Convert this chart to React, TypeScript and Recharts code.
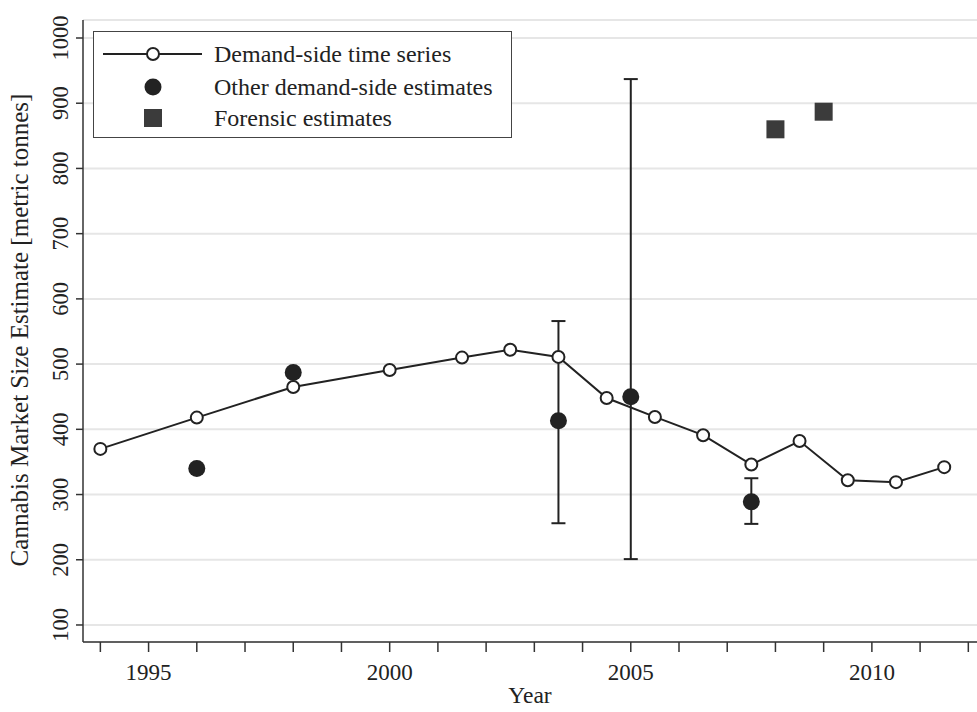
import React from "react";
import {
  ScatterChart,
  Scatter,
  XAxis,
  YAxis,
  CartesianGrid,
  ErrorBar,
  Legend,
} from "recharts";

const INK = "#222222";
const GRID = "#e6e6e6";
const SQUARE = "#3b3b3b";
const FONT = "'Liberation Serif', 'Times New Roman', serif";

// demand-side time series
const seriesYears = [1994, 1996, 1998, 2000, 2001.5, 2002.5, 2003.5, 2004.5, 2005.5, 2006.5, 2007.5, 2008.5, 2009.5, 2010.5, 2011.5];
const seriesValues = [370, 418, 465, 491, 510, 522, 511, 448, 419, 391, 346, 382, 322, 319, 342];

// other demand-side estimates, with ranges where given
const otherYears = [1996, 1998, 2003.5, 2005, 2007.5];
const otherValues = [340, 487, 413, 450, 289];
const otherLow: (number | null)[] = [null, null, 256, 201, 255];
const otherHigh: (number | null)[] = [null, null, 566, 937, 325];

// forensic estimates
const forensicYears = [2008, 2009];
const forensicValues = [860, 887];

const yearTicks = [1994, 1995, 1996, 1997, 1998, 1999, 2000, 2001, 2002, 2003, 2004, 2005, 2006, 2007, 2008, 2009, 2010, 2011, 2012];
const valueTicks = [100, 200, 300, 400, 500, 600, 700, 800, 900, 1000];

const seriesData = seriesYears.map((x, i) => ({ x, y: seriesValues[i] }));
const otherData = otherYears.map((x, i) => ({ x, y: otherValues[i] }));
const rangeData = otherYears
  .map((x, i) => ({ x, y: otherValues[i], lo: otherLow[i], hi: otherHigh[i] }))
  .filter((d) => d.lo != null && d.hi != null)
  .map((d) => ({ x: d.x, y: d.y, err: [d.y - (d.lo as number), (d.hi as number) - d.y] }));
const forensicData = forensicYears.map((x, i) => ({ x, y: forensicValues[i] }));

const OpenDot = (p: any) => (
  <circle cx={p.cx} cy={p.cy} r={6} fill="#fff" stroke={INK} strokeWidth={2} />
);
const FilledDot = (p: any) => <circle cx={p.cx} cy={p.cy} r={8.5} fill={INK} />;
const Square = (p: any) => (
  <rect x={p.cx - 9} y={p.cy - 9} width={18} height={18} fill={SQUARE} />
);
const NoDot = () => <g />;

const XTick = (p: any) => {
  const v = p.payload.value;
  if (v % 5 !== 0) return <g />;
  return (
    <text x={p.x} y={p.y + 26} textAnchor="middle" fontSize={23} fontFamily={FONT} fill={INK}>
      {v}
    </text>
  );
};

const YTick = (p: any) => {
  const bx = p.x - 6;
  return (
    <text
      x={bx}
      y={p.y}
      transform={`rotate(-90 ${bx} ${p.y})`}
      textAnchor="middle"
      fontSize={22.5}
      fontFamily={FONT}
      fill={INK}
    >
      {p.payload.value}
    </text>
  );
};

const YTitle = () => (
  <text
    x={28}
    y={330}
    transform="rotate(-90 28 330)"
    textAnchor="middle"
    fontSize={25}
    fontFamily={FONT}
    fill={INK}
  >
    Cannabis Market Size Estimate [metric tonnes]
  </text>
);

const legendRows = [
  { label: "Demand-side time series", kind: "line", h: 34 },
  { label: "Other demand-side estimates", kind: "dot", h: 32 },
  { label: "Forensic estimates", kind: "square", h: 30 },
];

function LegendBox() {
  return (
    <div
      style={{
        boxSizing: "border-box",
        width: 419,
        height: 107,
        border: "1.5px solid #444",
        background: "#fff",
        paddingTop: 5,
        fontFamily: FONT,
        fontSize: 24,
        color: INK,
      }}
    >
      {legendRows.map((r) => (
        <div key={r.label} style={{ display: "flex", alignItems: "center", height: r.h }}>
          <svg width={120} height={r.h} style={{ flex: "none" }}>
            {r.kind === "line" && (
              <>
                <line x1={9} x2={108} y1={r.h / 2} y2={r.h / 2} stroke={INK} strokeWidth={2} />
                <circle cx={59} cy={r.h / 2} r={6} fill="#fff" stroke={INK} strokeWidth={2} />
              </>
            )}
            {r.kind === "dot" && <circle cx={59} cy={r.h / 2} r={8.5} fill={INK} />}
            {r.kind === "square" && <rect x={50} y={r.h / 2 - 9} width={18} height={18} fill={SQUARE} />}
          </svg>
          <span style={{ whiteSpace: "nowrap" }}>{r.label}</span>
        </div>
      ))}
    </div>
  );
}

export default function App() {
  return (
    <div style={{ position: "absolute", left: 0, top: 0, width: 977, height: 712, background: "#fff" }}>
      <ScatterChart width={977} height={712} margin={{ top: 20, right: 0, bottom: 0, left: 0 }}>
        <CartesianGrid vertical={false} stroke={GRID} strokeWidth={2} />
        <XAxis
          type="number"
          dataKey="x"
          domain={[1993.64, 2012.18]}
          allowDataOverflow
          ticks={yearTicks}
          interval={0}
          tick={<XTick />}
          tickSize={10}
          height={70}
          axisLine={{ stroke: "#333", strokeWidth: 1.5 }}
          tickLine={{ stroke: "#333", strokeWidth: 1.5 }}
          label={{
            value: "Year",
            position: "insideBottom",
            offset: 9,
            style: { fontSize: 23.5, fontFamily: FONT, fill: INK },
          }}
        />
        <YAxis
          type="number"
          dataKey="y"
          domain={[73.9, 1027.6]}
          allowDataOverflow
          ticks={valueTicks}
          interval={0}
          tick={<YTick />}
          tickSize={7}
          width={83}
          axisLine={{ stroke: "#333", strokeWidth: 1.5 }}
          tickLine={{ stroke: "#333", strokeWidth: 1.5 }}
          label={<YTitle />}
        />
        <Legend
          layout="horizontal"
          verticalAlign="middle"
          align="center"
          wrapperStyle={{ left: 93, top: 31, width: 419, height: 107 }}
          content={() => <LegendBox />}
        />
        <Scatter
          name="Other demand-side estimates"
          data={otherData}
          shape={FilledDot}
          isAnimationActive={false}
        />
        <Scatter
          name="Demand-side time series"
          data={seriesData}
          line={{ stroke: INK, strokeWidth: 2 }}
          lineType="joint"
          shape={OpenDot}
          isAnimationActive={false}
        />
        <Scatter name="ranges" data={rangeData} shape={NoDot} isAnimationActive={false} legendType="none">
          <ErrorBar dataKey="err" direction="y" width={7} stroke={INK} strokeWidth={2} />
        </Scatter>
        <Scatter
          name="Forensic estimates"
          data={forensicData}
          shape={Square}
          isAnimationActive={false}
        />
      </ScatterChart>
    </div>
  );
}
